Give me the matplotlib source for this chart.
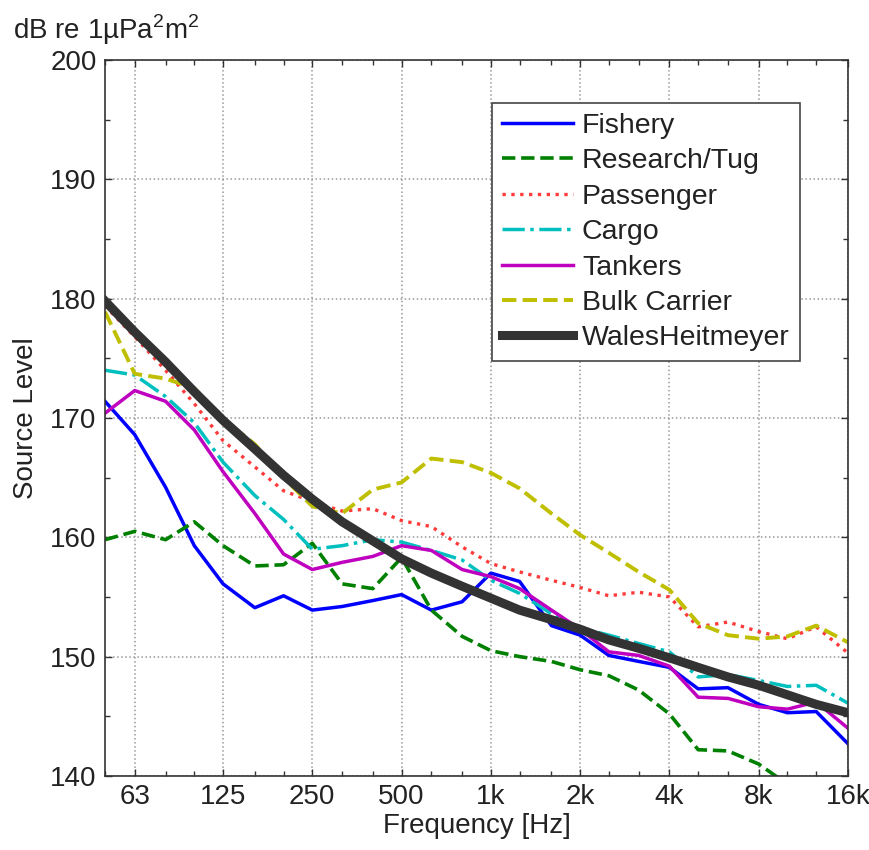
import matplotlib
matplotlib.use("Agg")
import matplotlib.pyplot as plt
from matplotlib.ticker import FixedLocator, NullFormatter, MultipleLocator

# 1/3-octave band centres [Hz]
freq = [50, 63, 80, 100, 125, 160, 200, 250, 315, 400, 500, 630, 800,
        1000, 1250, 1600, 2000, 2500, 3150, 4000, 5000, 6300, 8000,
        10000, 12500, 16000]

# band source levels, dB re 1 uPa^2 m^2
fishery = [171.4, 168.6, 164.2, 159.3, 156.1, 154.1, 155.1, 153.9, 154.2,
           154.7, 155.2, 153.9, 154.6, 157.0, 156.3, 152.6, 151.8, 150.1,
           149.6, 149.1, 147.3, 147.4, 146.0, 145.3, 145.4, 142.7]
research_tug = [159.8, 160.5, 159.8, 161.3, 159.3, 157.6, 157.7, 159.5, 156.1,
                155.7, 158.3, 153.9, 151.7, 150.5, 150.0, 149.6, 148.9, 148.4,
                147.2, 145.2, 142.2, 142.1, 141.0, 139.3, 138.5, 137.5]
passenger = [179.4, 176.8, 174.0, 171.2, 168.1, 165.9, 163.9, 163.0, 162.2,
             162.4, 161.4, 160.9, 159.2, 157.8, 157.1, 156.4, 155.8, 155.1,
             155.4, 155.0, 152.5, 152.9, 152.1, 151.5, 152.5, 150.3]
cargo = [174.0, 173.6, 171.8, 169.6, 166.3, 163.5, 161.5, 159.0, 159.3,
         159.8, 159.6, 158.9, 158.1, 156.4, 155.3, 153.6, 152.4, 151.8,
         151.1, 150.4, 148.3, 148.5, 148.0, 147.5, 147.6, 146.1]
tankers = [170.4, 172.3, 171.4, 169.0, 165.5, 162.0, 158.6, 157.3, 157.9,
           158.4, 159.3, 158.9, 157.3, 156.7, 155.7, 153.9, 152.3, 150.4,
           150.1, 149.2, 146.6, 146.5, 145.8, 145.6, 146.2, 144.0]
bulk_carrier = [178.9, 173.7, 173.3, 172.5, 169.9, 167.8, 165.0, 162.6, 162.0,
                164.0, 164.6, 166.6, 166.3, 165.4, 164.1, 162.0, 160.2, 158.7,
                157.1, 155.6, 152.8, 151.8, 151.5, 151.7, 152.6, 151.2]
wales_heitmeyer = [179.8, 177.2, 174.7, 172.2, 169.8, 167.4, 165.2, 163.2,
                   161.3, 159.7, 158.2, 157.0, 155.9, 154.9, 153.9, 153.1,
                   152.3, 151.4, 150.7, 149.9, 149.1, 148.3, 147.6, 146.8,
                   146.0, 145.3]

major_freq = [63, 125, 250, 500, 1000, 2000, 4000, 8000, 16000]
major_labels = ["63", "125", "250", "500", "1k", "2k", "4k", "8k", "16k"]

plt.rcParams["font.family"] = ["Liberation Sans", "DejaVu Sans"]
plt.rcParams["mathtext.fontset"] = "custom"
plt.rcParams["mathtext.rm"] = "Liberation Sans"

fig = plt.figure(figsize=(8.7, 8.5), dpi=100)
ax = fig.add_axes([0.1207, 0.0871, 0.8540, 0.8423])

ax.plot(freq, fishery, color="#0000ff", lw=2.5, label="Fishery")
ax.plot(freq, research_tug, color="#008000", lw=2.6, ls="--", label="Research/Tug")
ax.plot(freq, passenger, color="#ff3b3b", lw=2.4, ls=":", label="Passenger")
ax.plot(freq, cargo, color="#00bfbf", lw=2.5, ls="-.", label="Cargo")
ax.plot(freq, tankers, color="#bf00bf", lw=2.5, label="Tankers")
ax.plot(freq, bulk_carrier, color="#bfbf00", lw=2.8, ls="--", label="Bulk Carrier")
ax.plot(freq, wales_heitmeyer, color="#333333", lw=6.5, label="WalesHeitmeyer")

ax.set_xscale("log")
ax.set_xlim(freq[0], freq[-1])
ax.set_ylim(140, 200)

ax.xaxis.set_major_locator(FixedLocator(major_freq))
ax.set_xticklabels(major_labels)
ax.xaxis.set_minor_locator(FixedLocator([f for f in freq if f not in major_freq]))
ax.xaxis.set_minor_formatter(NullFormatter())
ax.yaxis.set_major_locator(MultipleLocator(10))
ax.yaxis.set_minor_locator(MultipleLocator(5))

ax.tick_params(which="both", direction="in", top=True, right=True,
               colors="#333333", labelcolor="#222222")
ax.tick_params(which="major", length=5, width=1, labelsize=20, pad=6)
ax.tick_params(which="minor", length=3.5, width=1)
for s in ax.spines.values():
    s.set_color("#333333")
    s.set_linewidth(1.2)

ax.grid(True, which="major", ls=":", color="#999999", lw=1.1)

ax.set_xlabel("Frequency [Hz]", fontsize=20, color="#222222", labelpad=2)
ax.set_ylabel("Source Level", fontsize=20, color="#222222", labelpad=8)
fig.text(13 / 870, 1 - 30 / 850, r"dB re 1µPa$^2$m$^2$", fontsize=20,
         color="#222222", ha="left", va="center")

leg = ax.legend(loc="upper right", bbox_to_anchor=(0.935, 0.940),
                fontsize=20.5, frameon=True, fancybox=False, framealpha=1,
                edgecolor="#444444", borderaxespad=0, borderpad=0.35,
                labelspacing=0.33, handlelength=2.5, handletextpad=0.3)
leg.get_frame().set_linewidth(1.2)
for t in leg.get_texts():
    t.set_color("#222222")

fig.savefig("out.png", dpi=100)
